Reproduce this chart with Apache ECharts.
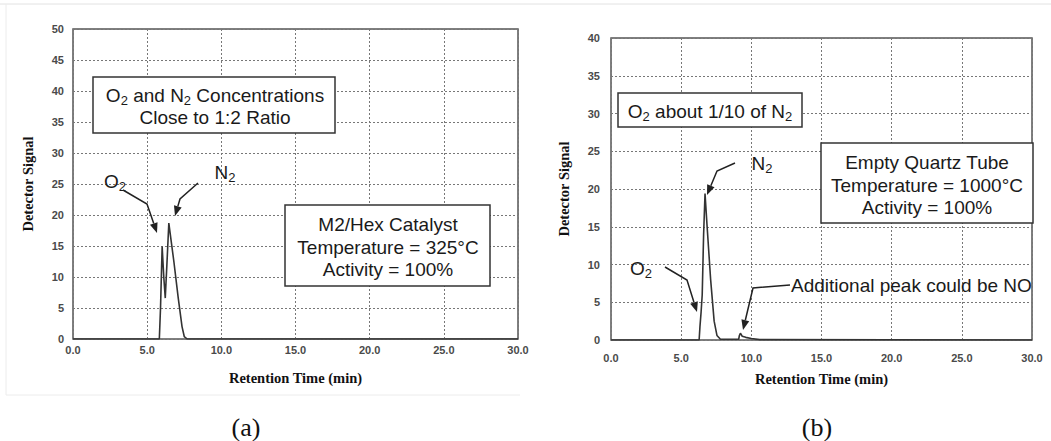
<!DOCTYPE html>
<html><head><meta charset="utf-8">
<script src="https://cdn.jsdelivr.net/npm/echarts@6/dist/echarts.min.js"></script>
<style>html,body{margin:0;padding:0;background:#fff}#c{width:1051px;height:441px}</style>
</head><body><div id="c"></div>
<script>
// ---- data ----
const xTicks = [0, 5, 10, 15, 20, 25, 30];
const timeA = [0, 5.82, 5.9, 6.01, 6.12, 6.22, 6.33, 6.46, 6.8, 7.1, 7.35, 7.5, 7.7, 30];
const signalA = [0, 0, 5, 14.9, 10, 6.6, 12, 18.7, 12.5, 6.5, 2, 0.4, 0, 0];
const timeB = [0, 6.28, 6.34, 6.42, 6.5, 6.6, 6.7, 6.85, 7.1, 7.35, 7.55, 7.8, 9.1, 9.15, 9.22, 9.35, 9.6, 10.0, 10.6, 30];
const signalB = [0, 0, 1.8, 3.7, 6, 14, 19.4, 15, 8, 2.5, 0.6, 0.1, 0.1, 0.6, 0.9, 0.5, 0.35, 0.2, 0.05, 0];

const pairs = (t, v) => t.map((x, i) => [x, v[i]]);

const chart = echarts.init(document.getElementById('c'), null, {renderer: 'svg'});
const tickFont = {fontFamily: 'Liberation Sans', fontSize: 11, fontWeight: 'bold', color: '#4a4a4a'};
const titleFont = {fontFamily: 'Liberation Serif', fontWeight: 'bold', fontSize: 14.5, color: '#111'};
const gridLine = {show: true, lineStyle: {type: [2, 2], color: '#777', width: 1}};

function xAx(idx, margin) {
  return {type: 'value', gridIndex: idx, min: 0, max: 30, interval: 5,
    name: 'Retention Time (min)', nameLocation: 'middle', nameGap: 31, nameTextStyle: titleFont,
    axisLine: {show: false}, axisTick: {show: false}, splitLine: gridLine,
    axisLabel: Object.assign({margin: margin, formatter: v => v.toFixed(1)}, tickFont)};
}
function yAx(idx, max, gap, margin) {
  return {type: 'value', gridIndex: idx, min: 0, max: max, interval: 5,
    name: 'Detector Signal', nameLocation: 'middle', nameGap: gap, nameRotate: 90, nameTextStyle: titleFont,
    axisLine: {show: false}, axisTick: {show: false}, splitLine: gridLine,
    axisLabel: Object.assign({margin: margin}, tickFont)};
}

const font = 'Liberation Sans';
function box(x, y, w, h) {
  return {type: 'rect', shape: {x: x, y: y, width: w, height: h},
    style: {fill: '#fff', stroke: '#333', lineWidth: 1.5}, z: 10};
}
function txt(x, y, text, size, align) {
  return {type: 'text', x: x, y: y, z: 11,
    style: {text: text, fill: '#1a1a1a', font: size + 'px ' + font, align: align || 'center', verticalAlign: 'middle',
      lineHeight: 24,
      rich: {
        n: {fontSize: size, fontFamily: font, lineHeight: 24, color: '#1a1a1a'},
        s: {fontSize: Math.round(size * 0.68), fontFamily: font, lineHeight: 11, verticalAlign: 'bottom', color: '#1a1a1a'}
      }}};
}
function arrow(points) {
  const n = points.length;
  const [x1, y1] = points[n - 2], [x2, y2] = points[n - 1];
  const a = Math.atan2(y2 - y1, x2 - x1), L = 10, W = 4;
  const bx = x2 - L * Math.cos(a), by = y2 - L * Math.sin(a);
  const head = [[x2, y2], [bx + W * Math.sin(a), by - W * Math.cos(a)], [bx - W * Math.sin(a), by + W * Math.cos(a)]];
  const shaft = points.slice(0, n - 1).concat([[bx, by]]);
  return [
    {type: 'polyline', shape: {points: shaft}, style: {stroke: '#222', lineWidth: 1.5, fill: null}, z: 12},
    {type: 'polygon', shape: {points: head}, style: {fill: '#222'}, z: 12}
  ];
}

const graphics = [
  {type: 'line', shape: {x1: 0, y1: 4, x2: 1051, y2: 4}, style: {stroke: '#e2e2e2', lineWidth: 1}},
  {type: 'line', shape: {x1: 6, y1: 4, x2: 6, y2: 395}, style: {stroke: '#ececec', lineWidth: 1}},
  {type: 'line', shape: {x1: 6, y1: 395, x2: 520, y2: 395}, style: {stroke: '#ececec', lineWidth: 1}},
  // panel (a)
  box(93, 77, 242, 56),
  txt(215, 95, '{n|O}{s|2}{n| and N}{s|2}{n| Concentrations}', 19),
  txt(215, 117, '{n|Close to 1:2 Ratio}', 19),
  box(285, 205, 205, 81),
  txt(388, 224, '{n|M2/Hex Catalyst}', 19),
  txt(388, 247, '{n|Temperature = 325°C}', 19),
  txt(388, 269, '{n|Activity = 100%}', 19),
  txt(115, 181, '{n|O}{s|2}', 19),
  txt(225, 172, '{n|N}{s|2}', 19),
  ...arrow([[123, 190], [147, 204], [157, 233]]),
  ...arrow([[198, 183], [180, 199], [175, 216]]),
  {type: 'text', x: 246, y: 427, style: {text: '(a)', font: '26px Liberation Serif', fill: '#111', align: 'center', verticalAlign: 'middle'}},
  // panel (b)
  box(618, 93, 184, 34),
  txt(710, 111, '{n|O}{s|2}{n| about 1/10 of N}{s|2}', 19),
  box(821, 143, 212, 80),
  txt(927, 162, '{n|Empty Quartz Tube}', 19),
  txt(927, 185, '{n|Temperature = 1000°C}', 19),
  txt(927, 207, '{n|Activity = 100%}', 19),
  txt(641, 268, '{n|O}{s|2}', 19),
  txt(762, 163, '{n|N}{s|2}', 19),
  txt(791, 285, '{n|Additional peak could be NO}', 19, 'left'),
  ...arrow([[665, 267], [687, 280], [697, 312]]),
  ...arrow([[735, 163], [717, 171], [707, 195]]),
  ...arrow([[790, 285], [753, 288], [743, 330]]),
  {type: 'text', x: 817, y: 427, style: {text: '(b)', font: '26px Liberation Serif', fill: '#111', align: 'center', verticalAlign: 'middle'}}
];

chart.setOption({
  animation: false,
  backgroundColor: '#fff',
  grid: [
    {left: 73, top: 29, width: 445, height: 310, show: true, borderColor: '#555', borderWidth: 1.5},
    {left: 611, top: 38, width: 421, height: 302, show: true, borderColor: '#555', borderWidth: 1.5}
  ],
  xAxis: [xAx(0, 5), xAx(1, 12)],
  yAxis: [yAx(0, 50, 38, 9), yAx(1, 40, 40, 11)],
  series: [
    {type: 'line', xAxisIndex: 0, yAxisIndex: 0, data: pairs(timeA, signalA), showSymbol: false,
      lineStyle: {color: '#333', width: 1.6}},
    {type: 'line', xAxisIndex: 1, yAxisIndex: 1, data: pairs(timeB, signalB), showSymbol: false,
      lineStyle: {color: '#333', width: 1.6}}
  ],
  graphic: graphics
});
</script></body></html>
